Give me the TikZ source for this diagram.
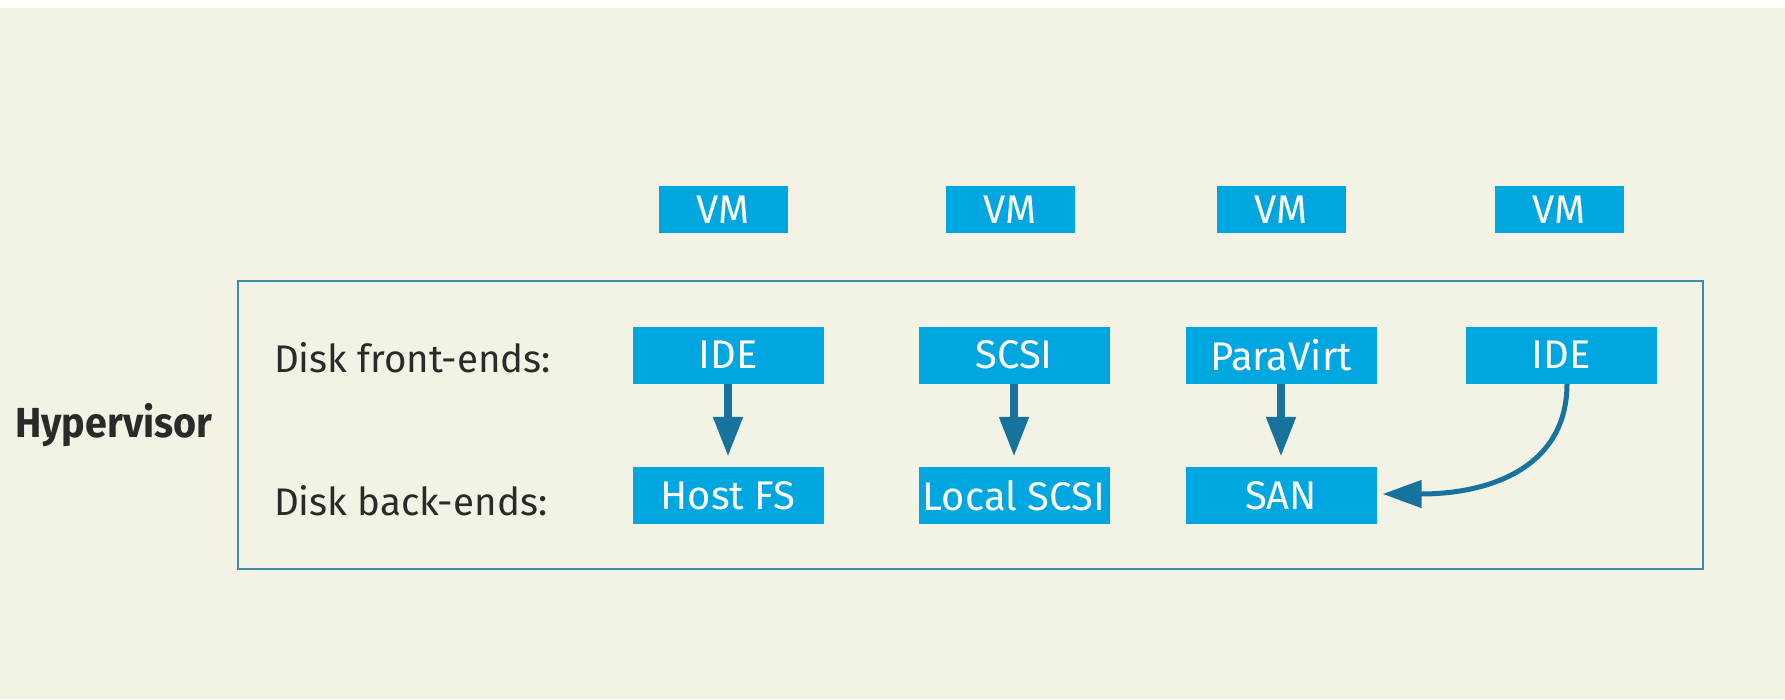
\documentclass[tikz,border=0pt]{standalone}
\usepackage{fontspec}
\setmainfont{Fira Sans}
\newfontfamily\diafont{Fira Sans}
\newfontfamily\headfont[FakeStretch=0.94]{Fira Sans Bold}
\usetikzlibrary{arrows.meta}

\definecolor{bgpaper}{HTML}{F2F3E4}
\definecolor{boxblue}{HTML}{00A6E0}
\definecolor{arrowblue}{HTML}{17739E}
\definecolor{framecol}{HTML}{3C8BA2}
\definecolor{inkgray}{HTML}{2A2A2A}

\tikzset{
  blk/.style={fill=boxblue, inner sep=0pt, text=white,
    font=\diafont\fontsize{40}{43}\selectfont},
  vmbox/.style={blk, minimum width=129pt, minimum height=47pt},
  endbox/.style={blk, minimum width=191pt, minimum height=57pt},
  rowlabel/.style={anchor=base west, inner sep=0pt, text=inkgray,
    font=\diafont\fontsize{38.5}{41}\selectfont},
  flow/.style={draw=arrowblue, line width=8pt,
    -{Triangle[width=28pt,length=40pt]}},
  bentflow/.style={draw=arrowblue, line width=5pt,
    -{Triangle[width=27pt,length=39pt]}}
}

\begin{document}
\begin{tikzpicture}[x=1pt,y=-1pt]
  % page: white strip on top, paper colour below
  \useasboundingbox (0,0) rectangle (1785,699);
  \fill[white] (0,0) rectangle (1785,8);
  \fill[bgpaper] (0,8) rectangle (1785,699);

  % hypervisor frame
  \node[draw=framecol, line width=2pt, inner sep=0pt,
        minimum width=1465pt, minimum height=288pt] (hyp) at (970.5,425) {};
  \node[anchor=base west, inner sep=0pt, text=inkgray,
        font=\headfont\fontsize{42}{45}\selectfont] (hyplabel) at (15,437) {Hypervisor};

  % virtual machines
  \node[vmbox] (vm1) at (723.5,209.5) {VM};
  \node[vmbox] (vm2) at (1010,209.5) {VM};
  \node[vmbox] (vm3) at (1281,209.5) {VM};
  \node[vmbox] (vm4) at (1559.5,209.5) {VM};

  % row labels
  \node[rowlabel] (fe) at (274,372) {Disk front-ends:};
  \node[rowlabel] (be) at (274,515) {Disk back-ends:};

  % disk front-ends
  \node[endbox] (ide1) at (728,355) {IDE};
  \node[endbox] (scsi) at (1014,355) {SCSI};
  \node[endbox] (pv)   at (1281,355) {ParaVirt};
  \node[endbox] (ide2) at (1561,355) {IDE};

  % disk back-ends
  \node[endbox] (hostfs) at (728,495.5) {Host FS};
  \node[endbox] (lscsi)  at (1014,495.5) {Local SCSI};
  \node[endbox] (san)    at (1281,495.5) {SAN};

  % front-end to back-end mappings
  \draw[flow] (ide1.south) -- ([yshift=10pt]hostfs.north);
  \draw[flow] (scsi.south) -- ([yshift=10pt]lscsi.north);
  \draw[flow] (pv.south)   -- ([yshift=10pt]san.north);
  \draw[bentflow] ([xshift=6pt]ide2.south)
    .. controls +(0,82) and +(110,0) .. ([xshift=6pt,yshift=1.5pt]san.east);
\end{tikzpicture}
\end{document}
